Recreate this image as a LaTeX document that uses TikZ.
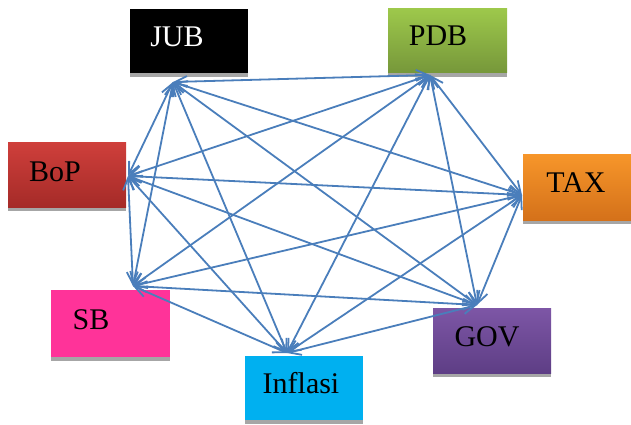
\documentclass[tikz,border=0pt]{standalone}
\usepackage{fontspec}
\setmainfont{Liberation Serif}
\usepackage{tikz}
\usetikzlibrary{arrows.meta,shadows}

\definecolor{linkblue}{HTML}{4A7EBB}
\definecolor{shadowgray}{HTML}{A6A6A6}
\definecolor{sbpink}{HTML}{FF3399}
\definecolor{inflcyan}{HTML}{00B0F0}

\tikzset{
  box/.style={rectangle, minimum width=118pt, minimum height=64pt, inner sep=0pt,
    drop shadow={shadow xshift=0pt, shadow yshift=-4pt, fill=shadowgray, opacity=1}},
  lbl/.style={font={\fontsize{30}{36}\selectfont}, inner sep=0pt},
  link/.style={draw=linkblue, line width=1.8pt, {Straight Barb[length=12pt,width=11pt]}-{Straight Barb[length=12pt,width=11pt]}}
}

\begin{document}
\begin{tikzpicture}[x=1pt, y=-1pt]
            \useasboundingbox (0,0) rectangle (631,425);
            % boxes
            \node[box, fill=black, label={[lbl, white, xshift=-12pt, yshift=4pt]center:JUB}] (jub) at (189, 41) {};
            \node[box, minimum width=119pt, top color={rgb,255:red,157;green,200;blue,75}, bottom color={rgb,255:red,118;green,151;blue,58}, label={[lbl, xshift=-9.5pt, yshift=5pt]center:PDB}] (pdb) at (447.5, 41) {};
            \node[box, minimum height=65pt, top color={rgb,255:red,207;green,63;blue,59}, bottom color={rgb,255:red,165;green,43;blue,40}, label={[lbl, xshift=-12pt, yshift=2.5pt]center:BoP}] (bop) at (67, 174.5) {};
            \node[box, minimum height=66pt, top color={rgb,255:red,247;green,150;blue,42}, bottom color={rgb,255:red,212;green,113;blue,26}, label={[lbl, xshift=-6pt, yshift=4pt]center:TAX}] (tax) at (582, 187) {};
            \node[box, minimum width=119pt, minimum height=67pt, fill=sbpink, label={[lbl, xshift=-19.5pt, yshift=3.5pt]center:SB}] (sb) at (110.5, 323.5) {};
            \node[box, minimum height=65pt, top color={rgb,255:red,125;green,86;blue,166}, bottom color={rgb,255:red,94;green,62;blue,133}, label={[lbl, xshift=-5pt, yshift=3.5pt]center:GOV}] (gov) at (492, 340.5) {};
            \node[box, fill=inflcyan, label={[lbl, xshift=-3pt, yshift=5pt]center:Inflasi}] (infl) at (304, 388) {};
            % meeting points
            \coordinate (jub-p) at (173, 82);
            \coordinate (pdb-p) at (430, 75);
            \coordinate (bop-p) at (128, 176);
            \coordinate (tax-p) at (522, 195);
            \coordinate (sb-p) at (133, 286);
            \coordinate (gov-p) at (477, 305);
            \coordinate (infl-p) at (287, 353);
            % links
            \draw[link] (jub-p) -- (pdb-p);
            \draw[link] (jub-p) -- (bop-p);
            \draw[link] (jub-p) -- (tax-p);
            \draw[link] (jub-p) -- (sb-p);
            \draw[link] (jub-p) -- (gov-p);
            \draw[link] (jub-p) -- (infl-p);
            \draw[link] (pdb-p) -- (bop-p);
            \draw[link] (pdb-p) -- (tax-p);
            \draw[link] (pdb-p) -- (sb-p);
            \draw[link] (pdb-p) -- (gov-p);
            \draw[link] (pdb-p) -- (infl-p);
            \draw[link] (bop-p) -- (tax-p);
            \draw[link] (bop-p) -- (sb-p);
            \draw[link] (bop-p) -- (gov-p);
            \draw[link] (bop-p) -- (infl-p);
            \draw[link] (tax-p) -- (sb-p);
            \draw[link] (tax-p) -- (gov-p);
            \draw[link] (tax-p) -- (infl-p);
            \draw[link] (sb-p) -- (gov-p);
            \draw[link] (sb-p) -- (infl-p);
            \draw[link] (gov-p) -- (infl-p);
        \end{tikzpicture}
\end{document}
